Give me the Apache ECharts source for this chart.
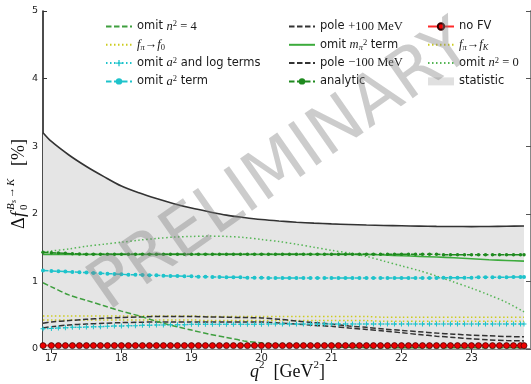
<!DOCTYPE html>
<html><head><meta charset="utf-8">
<script src="https://cdn.jsdelivr.net/npm/echarts@6/dist/echarts.min.js"></script>
<style>html,body{margin:0;padding:0;background:#fff}#c{width:531px;height:384px}</style>
</head><body><div id="c"></div>
<script>
// ---- data ----
const q = [16.88,17,17.25,17.5,17.75,18,18.25,18.5,18.75,19,19.25,19.5,19.75,20,20.25,20.5,20.75,21,21.25,21.5,21.75,22,22.25,22.5,22.75,23,23.25,23.5,23.75];
const statUpper = [3.2,3.07,2.87,2.70,2.55,2.41,2.31,2.225,2.15,2.085,2.03,1.98,1.945,1.915,1.893,1.876,1.862,1.851,1.842,1.834,1.828,1.823,1.818,1.814,1.812,1.811,1.812,1.815,1.82];
const omitN2eq0 = [1.43,1.45,1.48,1.52,1.55,1.58,1.61,1.635,1.655,1.665,1.67,1.665,1.65,1.62,1.59,1.55,1.505,1.46,1.42,1.37,1.30,1.23,1.16,1.08,0.99,0.90,0.80,0.69,0.55];
const omitMpi2 = [1.40,1.40,1.40,1.40,1.40,1.40,1.40,1.40,1.40,1.40,1.40,1.40,1.40,1.40,1.40,1.40,1.40,1.40,1.40,1.40,1.39,1.38,1.37,1.36,1.35,1.335,1.32,1.31,1.30];
const omitN2eq4 = [0.98,0.92,0.80,0.72,0.64,0.56,0.49,0.41,0.34,0.28,0.22,0.17,0.12,0.09,0.065,0.05,0.04,0.03,0.025,0.02,0.02,0.02,0.02,0.02,0.02,0.02,0.02,0.02,0.02];
const fpiF0 = [0.49,0.49,0.49,0.49,0.49,0.49,0.49,0.49,0.49,0.49,0.48,0.48,0.48,0.48,0.48,0.48,0.48,0.48,0.48,0.48,0.47,0.47,0.47,0.47,0.47,0.47,0.47,0.47,0.47];
const fpiFK = [0.43,0.43,0.43,0.43,0.43,0.43,0.43,0.43,0.43,0.43,0.42,0.42,0.42,0.42,0.42,0.42,0.42,0.42,0.42,0.42,0.41,0.41,0.41,0.41,0.41,0.41,0.41,0.41,0.41];
const polePlus = [0.38,0.40,0.42,0.44,0.455,0.465,0.475,0.48,0.48,0.48,0.475,0.47,0.465,0.46,0.44,0.415,0.39,0.37,0.34,0.32,0.295,0.275,0.255,0.235,0.22,0.205,0.195,0.185,0.18];
const poleMinus = [0.31,0.33,0.355,0.37,0.38,0.39,0.395,0.40,0.40,0.40,0.40,0.40,0.40,0.40,0.385,0.37,0.35,0.335,0.31,0.29,0.265,0.24,0.215,0.19,0.17,0.15,0.135,0.125,0.12];

const qDense = [16.88,17.0,17.1,17.2,17.3,17.4,17.5,17.6,17.7,17.8,
  17.9,18.0,18.1,18.2,18.3,18.4,18.5,18.6,18.7,18.8,
  18.9,19.0,19.1,19.2,19.3,19.4,19.5,19.6,19.7,19.8,
  19.9,20.0,20.1,20.2,20.3,20.4,20.5,20.6,20.7,20.8,
  20.9,21.0,21.1,21.2,21.3,21.4,21.5,21.6,21.7,21.8,
  21.9,22.0,22.1,22.2,22.3,22.4,22.5,22.6,22.7,22.8,
  22.9,23.0,23.1,23.2,23.3,23.4,23.5,23.6,23.7,23.75];
const analytic = [1.43,1.425,1.42,1.415,1.41,1.405,1.40,1.40,1.40,1.40,
  1.40,1.40,1.40,1.40,1.40,1.40,1.40,1.40,1.40,1.40,
  1.40,1.40,1.40,1.40,1.40,1.40,1.40,1.40,1.40,1.40,
  1.40,1.40,1.40,1.40,1.40,1.40,1.40,1.40,1.40,1.40,
  1.40,1.40,1.40,1.40,1.40,1.40,1.40,1.40,1.40,1.40,
  1.40,1.40,1.40,1.40,1.40,1.40,1.40,1.395,1.395,1.395,
  1.395,1.395,1.395,1.395,1.395,1.395,1.395,1.395,1.395,1.395];
const omitA2 = [1.16,1.155,1.15,1.145,1.14,1.135,1.13,1.125,1.12,1.115,
  1.11,1.105,1.10,1.10,1.095,1.09,1.09,1.085,1.08,1.08,
  1.075,1.075,1.07,1.07,1.065,1.065,1.06,1.06,1.06,1.055,
  1.055,1.055,1.05,1.05,1.05,1.05,1.05,1.05,1.05,1.05,
  1.05,1.05,1.05,1.05,1.05,1.05,1.05,1.05,1.05,1.05,
  1.05,1.05,1.05,1.05,1.05,1.05,1.05,1.055,1.055,1.055,
  1.055,1.055,1.06,1.06,1.06,1.06,1.06,1.065,1.065,1.065];
const omitA2Log = [0.30,0.305,0.31,0.315,0.32,0.32,0.325,0.33,0.33,0.335,
  0.34,0.34,0.345,0.345,0.35,0.35,0.355,0.355,0.36,0.36,
  0.36,0.365,0.365,0.365,0.365,0.365,0.365,0.365,0.365,0.365,
  0.365,0.365,0.37,0.37,0.37,0.37,0.37,0.37,0.37,0.37,
  0.37,0.37,0.37,0.37,0.37,0.37,0.37,0.37,0.37,0.37,
  0.37,0.37,0.37,0.37,0.37,0.37,0.37,0.37,0.37,0.37,
  0.37,0.37,0.37,0.37,0.37,0.37,0.37,0.37,0.37,0.37];
const noFV = [0.05,0.05,0.05,0.05,0.05,0.05,0.05,0.05,0.05,0.05,
  0.05,0.05,0.05,0.05,0.05,0.05,0.05,0.05,0.05,0.05,
  0.05,0.05,0.05,0.05,0.05,0.05,0.05,0.05,0.05,0.05,
  0.05,0.05,0.05,0.05,0.05,0.05,0.05,0.05,0.05,0.05,
  0.05,0.05,0.05,0.05,0.05,0.05,0.05,0.05,0.05,0.05,
  0.05,0.05,0.05,0.05,0.05,0.05,0.05,0.05,0.05,0.05,
  0.05,0.05,0.05,0.05,0.05,0.05,0.05,0.05,0.05,0.05];

const xTicks = [17,18,19,20,21,22,23];
const yTicks = [0,1,2,3,4,5];

// ---- helpers ----
const pairs = (xs, ys) => xs.map((x, i) => [x, ys[i]]);
const DASH = [5.5, 2.5];
const DOT = [1.5, 2.5];
const plus = 'path://M4,0h2v4h4v2h-4v4h-2v-4h-4v-2h4z';

function line(name, xs, ys, color, type, width, extra) {
  return Object.assign({
    name, type: 'line', data: pairs(xs, ys), color,
    symbol: 'none', showSymbol: false, smooth: 0.3,
    lineStyle: { color, type, width }, z: 3, animation: false, silent: true
  }, extra || {});
}

const serif = 'Liberation Serif';
const rich = {
  it: { fontFamily: serif, fontStyle: 'italic', fontSize: 12.5, lineHeight: 14 },
  m: { fontFamily: serif, fontSize: 12.5, lineHeight: 14 },
  sup: { fontFamily: serif, fontSize: 8.5, lineHeight: 8, verticalAlign: 'top' },
  sub: { fontFamily: serif, fontStyle: 'italic', fontSize: 8.5, lineHeight: 8, verticalAlign: 'bottom' },
  subr: { fontFamily: serif, fontSize: 8.5, lineHeight: 8, verticalAlign: 'bottom' }
};
const legendLabels = {
  'omit n2=4': 'omit {it|n}{sup|2}{m| = 4}',
  'fpi->f0': '{it|f}{sub|π}{m|→}{it|f}{subr|0}',
  'omit a2 log': 'omit {it|a}{sup|2} and log terms',
  'omit a2 term': 'omit {it|a}{sup|2} term',
  'pole +100': 'pole {m|+100 MeV}',
  'omit mpi2': 'omit {it|m}{sub|π}{sup|2} term',
  'pole -100': 'pole {m|−100 MeV}',
  'analytic': 'analytic',
  'no FV': 'no FV',
  'fpi->fK': '{it|f}{sub|π}{m|→}{it|f}{sub|K}',
  'omit n2=0': 'omit {it|n}{sup|2}{m| = 0}',
  'statistic': 'statistic'
};
const hideMark = { color: 'rgba(0,0,0,0)', borderWidth: 0, opacity: 0 };
const plain = n => ({ name: n, itemStyle: hideMark });
function legend(left, items) {
  return {
    left, top: 19.5, orient: 'vertical', itemWidth: 26, itemHeight: 8, itemGap: 4.3, padding: 0,
    selectedMode: false, data: items,
    formatter: n => legendLabels[n],
    textStyle: { fontFamily: 'DejaVu Sans', fontSize: 11.5, color: '#1a1a1a', lineHeight: 14, rich }
  };
}

const C = {
  g4: '#3f9f3f', gSolid: '#3cab3c', gAn: '#1f8a1f', gDot: '#55b555',
  cyan: '#1ec3cb', yellow: '#cccc1e', black: '#333333', red: '#ff2a2a'
};

const series = [
  { name: 'statistic', type: 'line', data: pairs(q, statUpper), color: '#e3e3e3', symbol: 'none', showSymbol: false,
    smooth: 0.3, lineStyle: { width: 0, opacity: 0 }, areaStyle: { color: '#e5e5e5', opacity: 1 }, z: 1, animation: false, silent: true },
  line('statLine', q, statUpper, '#333', 'solid', 1.6, { z: 2 }),
  line('omit n2=0', q, omitN2eq0, C.gDot, DOT, 1.5),
  line('omit mpi2', q, omitMpi2, C.gSolid, 'solid', 1.6),
  line('analytic', qDense, analytic, C.gAn, DASH, 1.5, { symbol: 'circle', showSymbol: true, symbolSize: 3.5, smooth: false }),
  line('omit a2 term', qDense, omitA2, C.cyan, DASH, 1.5, { symbol: 'circle', showSymbol: true, symbolSize: 4, smooth: false }),
  line('fpi->f0', q, fpiF0, C.yellow, DOT, 1.5),
  line('fpi->fK', q, fpiFK, C.yellow, DOT, 1.5),
  line('pole +100', q, polePlus, C.black, DASH, 1.5),
  line('pole -100', q, poleMinus, C.black, DASH, 1.5),
  line('omit a2 log', qDense, omitA2Log, C.cyan, DOT, 1.5, { symbol: plus, showSymbol: true, symbolSize: 5, smooth: false }),
  line('omit n2=4', q, omitN2eq4, C.g4, DASH, 1.5),
  line('no FV', qDense, noFV, C.red, 'solid', 2, { symbol: 'circle', showSymbol: true, symbolSize: 6, smooth: false, z: 6,
    itemStyle: { color: '#ee0000', borderColor: '#330000', borderWidth: 0.7 } })
];

const axisFont = { fontFamily: 'DejaVu Sans', fontSize: 10, color: '#222' };
const X_MIN = 16.88, X_MAX = 23.85;

const option = {
  animation: false,
  backgroundColor: '#fff',
  grid: { left: 43, right: -2, top: 11, bottom: 35 },
  xAxis: [
    { type: 'value', min: X_MIN, max: X_MAX, position: 'bottom',
      axisLine: { lineStyle: { color: '#555', width: 2 } },
      axisTick: { inside: true, length: 4, customValues: xTicks, lineStyle: { color: '#333' } },
      axisLabel: Object.assign({ customValues: xTicks, margin: 4, formatter: v => String(v) }, axisFont),
      splitLine: { show: false } },
    { type: 'value', min: X_MIN, max: X_MAX, position: 'top',
      axisLine: { lineStyle: { color: '#888', width: 2 } },
      axisTick: { inside: true, length: 4, customValues: xTicks, lineStyle: { color: '#333' } },
      axisLabel: { show: false }, splitLine: { show: false } }
  ],
  yAxis: [
    { type: 'value', min: 0, max: 5, interval: 1,
      axisLine: { show: true, lineStyle: { color: '#111', width: 1.5 } },
      axisTick: { show: true, inside: true, length: 4, lineStyle: { color: '#333' } },
      axisLabel: Object.assign({ margin: 5, formatter: v => String(v) }, axisFont, { fontSize: 9.5 }),
      splitLine: { show: false } },
    { type: 'value', min: 0, max: 5, interval: 1, position: 'right',
      axisLine: { show: true, lineStyle: { color: '#888', width: 2 } },
      axisTick: { show: true, inside: true, length: 5, lineStyle: { color: '#555' } },
      axisLabel: { show: false }, splitLine: { show: false } }
  ],
  legend: [
    legend(105, [plain('omit n2=4'), plain('fpi->f0'), 'omit a2 log', 'omit a2 term']),
    legend(288, [plain('pole +100'), plain('omit mpi2'), plain('pole -100'), 'analytic']),
    legend(427, ['no FV', plain('fpi->fK'), plain('omit n2=0'), { name: 'statistic', icon: 'rect', itemStyle: { color: '#e0e0e0' } }])
  ],
  series,
  graphic: [
    { type: 'group', x: 19, y: 183, rotation: Math.PI / 2, silent: true, children: [
      { type: 'text', x: -46, y: 0, style: { text: 'Δ', fontFamily: serif, fontSize: 18, fill: '#111', verticalAlign: 'middle' } },
      { type: 'text', x: -34, y: 0, style: { text: 'f', fontFamily: serif, fontStyle: 'italic', fontSize: 18, fill: '#111', verticalAlign: 'middle' } },
      { type: 'text', x: -27, y: 5, style: { text: '0', fontFamily: serif, fontSize: 11, fill: '#111', verticalAlign: 'middle' } },
      { type: 'text', x: -27, y: -8, style: { text: 'B', fontFamily: serif, fontStyle: 'italic', fontSize: 11, fill: '#111', verticalAlign: 'middle' } },
      { type: 'text', x: -20, y: -5, style: { text: 's', fontFamily: serif, fontStyle: 'italic', fontSize: 8, fill: '#111', verticalAlign: 'middle' } },
      { type: 'text', x: -15, y: -8, style: { text: '→', fontFamily: serif, fontSize: 11, fill: '#111', verticalAlign: 'middle' } },
      { type: 'text', x: -3, y: -8, style: { text: 'K', fontFamily: serif, fontStyle: 'italic', fontSize: 11, fill: '#111', verticalAlign: 'middle' } },
      { type: 'text', x: 17, y: 0, style: { text: '[%]', fontFamily: serif, fontSize: 18, fill: '#111', verticalAlign: 'middle' } }
    ] },
    { type: 'text', x: 250, y: 372, silent: true, style: {
      text: '{q|q}{s|2}{n|  [GeV}{s|2}{n|]}', verticalAlign: 'middle', fill: '#111',
      rich: {
        q: { fontFamily: serif, fontStyle: 'italic', fontSize: 18, lineHeight: 24 },
        n: { fontFamily: serif, fontSize: 18, lineHeight: 24 },
        s: { fontFamily: serif, fontSize: 11, lineHeight: 12, verticalAlign: 'top' }
      } } },
    { type: 'text', x: 282, y: 168, rotation: 0.611, z: 100, silent: true, style: {
      text: 'PRELIMINARY', fontFamily: 'DejaVu Sans', fontSize: 68, fill: 'rgba(128,128,128,0.40)',
      align: 'center', verticalAlign: 'middle' } }
  ]
};

const chart = echarts.init(document.getElementById('c'), null, { renderer: 'canvas' });
chart.setOption(option);
</script>
</body></html>
